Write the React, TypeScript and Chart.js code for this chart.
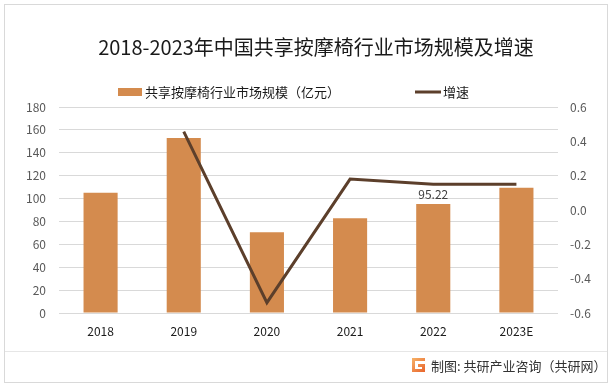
import React, { useEffect, useRef } from "react";
import { Chart, registerables } from "chart.js";

Chart.register(...registerables);

const title = "2018-2023年中国共享按摩椅行业市场规模及增速";
const categories = ["2018", "2019", "2020", "2021", "2022", "2023E"];
const marketSize = [105, 153, 70.5, 82.7, 95.22, 109.5];
const growth = [null, 0.457, -0.54, 0.18, 0.15, 0.15];
const barLabel = "共享按摩椅行业市场规模（亿元）";
const lineLabel = "增速";
const footerText = "制图: 共研产业咨询（共研网）";
const labeledIndex = 4;

const BAR_COLOR = "#d48b4e";
const LINE_COLOR = "#5c3f2b";
const FONT = "'Noto Sans CJK SC', 'Noto Sans', sans-serif";

const decorPlugin = {
  id: "decor",
  beforeDraw(chart: any) {
    const ctx = chart.ctx;
    ctx.save();
    ctx.fillStyle = "#ffffff";
    ctx.fillRect(0, 0, chart.width, chart.height);
    ctx.restore();
  },
  afterDraw(chart: any) {
    const ctx = chart.ctx;
    ctx.save();
    // border
    ctx.strokeStyle = "#d9d9d9";
    ctx.lineWidth = 1;
    ctx.strokeRect(4.5, 4.5, 603, 378);
    // footer separator
    ctx.beginPath();
    ctx.moveTo(5, 351.5);
    ctx.lineTo(607, 351.5);
    ctx.strokeStyle = "#e6e6e6";
    ctx.stroke();

    // title
    ctx.fillStyle = "#1a1a1a";
    ctx.font = `20px ${FONT}`;
    ctx.textAlign = "center";
    ctx.textBaseline = "middle";
    ctx.fillText(title, 316, 47);

    // legend
    ctx.font = `13px ${FONT}`;
    ctx.textAlign = "left";
    ctx.fillStyle = BAR_COLOR;
    ctx.fillRect(118, 88, 24, 8);
    ctx.fillStyle = "#1a1a1a";
    ctx.fillText(barLabel, 145, 92);
    ctx.strokeStyle = LINE_COLOR;
    ctx.lineWidth = 3;
    ctx.beginPath();
    ctx.moveTo(415, 92);
    ctx.lineTo(441, 92);
    ctx.stroke();
    ctx.fillText(lineLabel, 443, 92);

    // data label
    const meta = chart.getDatasetMeta(0);
    const el = meta.data[labeledIndex];
    if (el) {
      ctx.font = `12px ${FONT}`;
      ctx.fillStyle = "#404040";
      ctx.textAlign = "center";
      ctx.textBaseline = "bottom";
      ctx.fillText(String(marketSize[labeledIndex]), el.x, el.y - 4);
    }

    // footer logo
    const lx = 412, ly = 358;
    const g = ctx.createLinearGradient(lx, ly, lx + 13, ly + 14);
    g.addColorStop(0, "#f7b267");
    g.addColorStop(1, "#e8642c");
    ctx.fillStyle = g;
    ctx.fillRect(lx, ly, 13, 3);
    ctx.fillRect(lx, ly, 3, 14);
    ctx.fillRect(lx, ly + 11, 13, 3);
    ctx.fillRect(lx + 10, ly + 6, 3, 8);
    ctx.fillRect(lx + 6, ly + 6, 7, 3);

    ctx.font = `13px ${FONT}`;
    ctx.fillStyle = "#333333";
    ctx.textAlign = "left";
    ctx.textBaseline = "middle";
    ctx.fillText(footerText, 431, 366);
    ctx.restore();
  },
};

export default function App() {
  const ref = useRef<HTMLCanvasElement>(null);
  useEffect(() => {
    document.body.style.margin = "0";
    if (!ref.current) return;
    const chart = new Chart(ref.current, {
      type: "bar",
      data: {
        labels: categories,
        datasets: [
          {
            type: "bar",
            label: barLabel,
            data: marketSize,
            backgroundColor: BAR_COLOR,
            yAxisID: "y",
            categoryPercentage: 0.82,
            barPercentage: 0.5,
            order: 2,
          },
          {
            type: "line",
            label: lineLabel,
            data: growth as any,
            borderColor: LINE_COLOR,
            backgroundColor: LINE_COLOR,
            borderWidth: 3,
            pointRadius: 0,
            yAxisID: "y1",
            order: 1,
          },
        ],
      },
      options: {
        responsive: false,
        animation: false,
        layout: { padding: { top: 107, left: 0, right: 0, bottom: 0 } },
        plugins: {
          legend: { display: false },
          title: { display: false },
          tooltip: { enabled: false },
        },
        scales: {
          x: {
            grid: { display: false, drawTicks: false },
            border: { display: false },
            ticks: {
              color: "#1a1a1a",
              font: { size: 12, family: FONT },
              padding: 11,
            },
            afterFit: (s: any) => {
              s.height = 73;
            },
          },
          y: {
            position: "left",
            min: 0,
            max: 180,
            ticks: {
              stepSize: 20,
              color: "#595959",
              font: { size: 12, family: FONT },
              padding: 13,
            },
            grid: { color: "#d9d9d9", drawTicks: false },
            border: { display: false },
            afterFit: (s: any) => {
              s.width = 59;
            },
          },
          y1: {
            position: "right",
            min: -0.6,
            max: 0.6,
            ticks: {
              stepSize: 0.2,
              color: "#595959",
              font: { size: 12, family: FONT },
              padding: 12,
              callback: (v: any) => Number(v).toFixed(1),
            },
            grid: { display: false, drawTicks: false },
            border: { display: false },
            afterFit: (s: any) => {
              s.width = 58;
            },
          },
        },
      },
      plugins: [decorPlugin],
    });
    return () => chart.destroy();
  }, []);
  return (
    <div style={{ position: "absolute", left: 0, top: 0, width: 616, height: 386 }}>
      <canvas ref={ref} width={616} height={386} style={{ width: 616, height: 386 }} />
    </div>
  );
}
